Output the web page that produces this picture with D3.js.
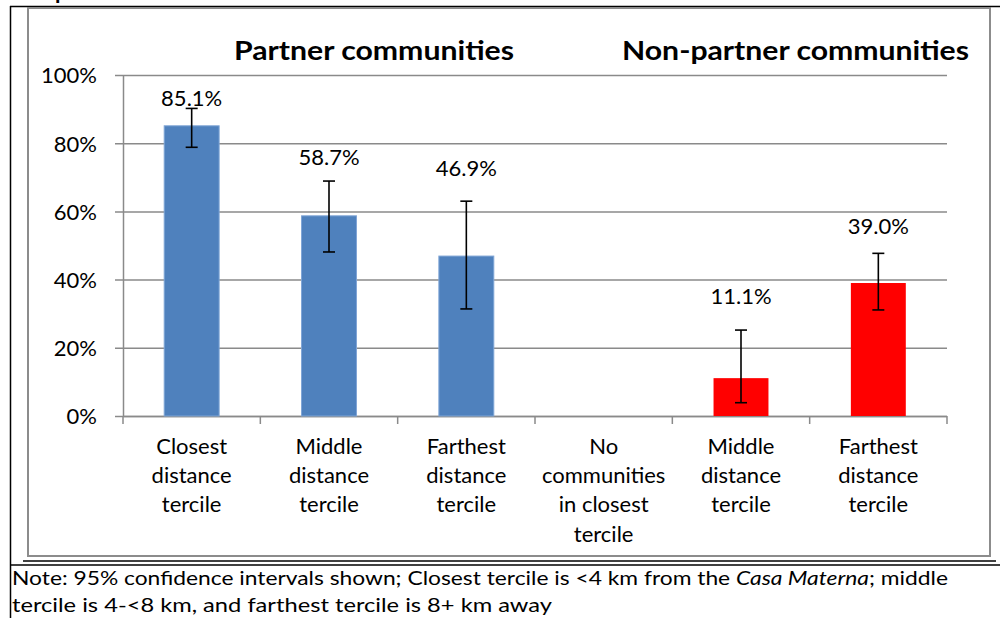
<!DOCTYPE html>
<html>
<head>
<meta charset="utf-8">
<script src="https://cdn.jsdelivr.net/npm/d3@7"></script>
<style>
  html, body { margin: 0; padding: 0; background: #fff; }
  svg { display: block; }
  text { font-family: Lato, "Open Sans", sans-serif; fill: #000; }
</style>
</head>
<body>
<svg id="chart" width="1000" height="618"></svg>
<script>
// ---- data ----
const categories = [
  ["Closest", "distance", "tercile"],
  ["Middle", "distance", "tercile"],
  ["Farthest", "distance", "tercile"],
  ["No", "communities", "in closest", "tercile"],
  ["Middle", "distance", "tercile"],
  ["Farthest", "distance", "tercile"]
];
const groups = ["partner", "partner", "partner", "non", "non", "non"];
const values = [85.1, 58.7, 46.9, null, 11.1, 39.0];
const ciLow  = [78.8, 48.1, 31.4, null, 3.9, 31.1];
const ciHigh = [90.2, 68.9, 63.0, null, 25.2, 47.7];
const labelAt = [93.3, 76.0, 72.7, null, 35.3, 55.6];   // label centre, in % units as placed in the source
const yTicks = [0, 20, 40, 60, 80, 100];
const groupTitles = ["Partner communities", "Non-partner communities"];
const noteLine1 = ["Note: 95% confidence intervals shown; Closest tercile is <4 km from the ", "Casa Materna", "; middle"];
const noteLine2 = "tercile is 4-<8 km, and farthest tercile is 8+ km away";

// ---- layout ----
const svg = d3.select("#chart");
const plot = { left: 123, right: 947, top: 75, bottom: 416 };
const colors = { partner: "#4F81BD", non: "#FF0000" };
const gridColor = "#8a8a8a";

const idx = categories.map((d, i) => i);
const x = d3.scaleBand().domain(idx).range([plot.left, plot.right]).paddingInner(0).paddingOuter(0);
const y = d3.scaleLinear().domain([0, 100]).range([plot.bottom, plot.top]);
const barW = x.bandwidth() * 0.4;

// outer document frame
svg.append("line").attr("x1", 10).attr("x2", 1000).attr("y1", 6.5).attr("y2", 6.5)
  .attr("stroke", "#000").attr("stroke-width", 1.5);
svg.append("line").attr("x1", 10.5).attr("x2", 10.5).attr("y1", 6).attr("y2", 618)
  .attr("stroke", "#000").attr("stroke-width", 1.5);
svg.append("line").attr("x1", 23).attr("x2", 996).attr("y1", 561).attr("y2", 561)
  .attr("stroke", "#000").attr("stroke-width", 1.5);
svg.append("line").attr("x1", 10).attr("x2", 1000).attr("y1", 565).attr("y2", 565)
  .attr("stroke", "#000").attr("stroke-width", 1.5);
// clipped heading glyph at the very top (as in the source)
svg.append("text").attr("x", 55).attr("y", -1).attr("font-weight", "bold")
  .attr("font-size", 22).text("p");

// chart border
svg.append("rect").attr("x", 28).attr("y", 8).attr("width", 962).attr("height", 548)
  .attr("fill", "#fff").attr("stroke", "#8c8c8c").attr("stroke-width", 2);

// gridlines + y axis
const yAxis = d3.axisLeft(y).tickValues(yTicks).tickFormat(d => d + "%")
  .tickSize(8).tickPadding(18);
const gy = svg.append("g").attr("transform", `translate(${plot.left},0)`).call(yAxis);
gy.select(".domain").attr("stroke", gridColor).attr("stroke-width", 1.5)
  .attr("d", `M0.5,${plot.top}V${plot.bottom}`);
gy.selectAll(".tick line").attr("stroke", gridColor).attr("stroke-width", 1.5)
  .attr("x1", -8).attr("x2", plot.right - plot.left);
gy.selectAll(".tick text").attr("font-size", 22).attr("fill", "#000")
  .attr("font-family", "Lato, sans-serif").attr("dy", "0.36em");

// x axis
const xAxis = d3.axisBottom(x).tickSize(0).tickFormat("");
const gx = svg.append("g").attr("transform", `translate(0,${plot.bottom})`).call(xAxis);
gx.select(".domain").attr("stroke", gridColor).attr("stroke-width", 1.5)
  .attr("d", `M${plot.left},0.5H${plot.right}`);
const boundaries = idx.map(i => x(i)).concat([plot.right]);
gx.selectAll(".bound").data(boundaries).enter().append("line")
  .attr("x1", d => d).attr("x2", d => d).attr("y1", 0).attr("y2", 8)
  .attr("stroke", gridColor).attr("stroke-width", 1.5);

// category labels
const catG = svg.append("g");
categories.forEach((lines, i) => {
  const t = catG.append("text").attr("text-anchor", "middle").attr("font-size", 22)
    .attr("x", x(i) + x.bandwidth() / 2).attr("y", 454);
  lines.forEach((ln, j) => {
    t.append("tspan").attr("x", x(i) + x.bandwidth() / 2).attr("dy", j === 0 ? 0 : 29.2).text(ln);
  });
});

// bars
const data = idx.map(i => ({ i, v: values[i], lo: ciLow[i], hi: ciHigh[i], g: groups[i], lab: labelAt[i] }))
  .filter(d => d.v != null);
svg.append("g").selectAll("rect").data(data).enter().append("rect")
  .attr("x", d => x(d.i) + (x.bandwidth() - barW) / 2)
  .attr("width", barW)
  .attr("y", d => y(d.v))
  .attr("height", d => y(0) - y(d.v))
  .attr("fill", d => colors[d.g])
  .attr("stroke", d => d.g === "partner" ? "#7FA5D6" : "none")
  .attr("stroke-width", 1);

// error bars
const eb = svg.append("g").attr("stroke", "#000").attr("stroke-width", 1.6);
data.forEach(d => {
  const cx = x(d.i) + x.bandwidth() / 2;
  eb.append("line").attr("x1", cx).attr("x2", cx).attr("y1", y(d.hi)).attr("y2", y(d.lo));
  eb.append("line").attr("x1", cx - 6).attr("x2", cx + 6).attr("y1", y(d.hi)).attr("y2", y(d.hi));
  eb.append("line").attr("x1", cx - 6).attr("x2", cx + 6).attr("y1", y(d.lo)).attr("y2", y(d.lo));
});

// value labels
svg.append("g").selectAll("text").data(data).enter().append("text")
  .attr("text-anchor", "middle").attr("font-size", 22)
  .attr("x", d => x(d.i) + x.bandwidth() / 2)
  .attr("y", d => y(d.lab)).attr("dy", "0.36em")
  .text(d => d.v.toFixed(1) + "%");

// group titles
svg.append("text").attr("x", 234).attr("y", 60)
  .attr("font-weight", "bold").attr("font-size", 26.5)
  .attr("textLength", 280).attr("lengthAdjust", "spacingAndGlyphs").text(groupTitles[0]);
svg.append("text").attr("x", 622).attr("y", 60)
  .attr("font-weight", "bold").attr("font-size", 26.5)
  .attr("textLength", 347).attr("lengthAdjust", "spacingAndGlyphs").text(groupTitles[1]);

// note
const n1 = svg.append("text").attr("x", 12).attr("y", 585).attr("font-size", 20)
  .attr("textLength", 936).attr("lengthAdjust", "spacingAndGlyphs");
n1.append("tspan").text(noteLine1[0]);
n1.append("tspan").attr("font-style", "italic").text(noteLine1[1]);
n1.append("tspan").text(noteLine1[2]);
svg.append("text").attr("x", 12).attr("y", 612).attr("font-size", 20)
  .attr("textLength", 540).attr("lengthAdjust", "spacingAndGlyphs").text(noteLine2);
</script>
</body>
</html>
